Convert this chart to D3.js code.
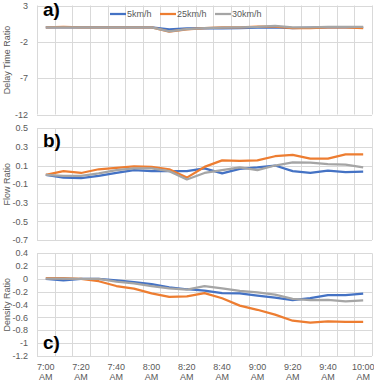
<!DOCTYPE html>
<html>
<head>
<meta charset="utf-8">
<title>Ratios by time</title>
<script src="https://cdn.jsdelivr.net/npm/d3@7"></script>
<style>
body, html {
  margin: 0;
  background: #fff;
}
svg text {
  font-family: "Liberation Sans", Arial, sans-serif;
}
.grid line {
  stroke: #d9d9d9;
  stroke-width: 1;
}
.tick-label {
  font-size: 9px;
  fill: #595959;
}
.axis-title {
  font-size: 9px;
  fill: #595959;
}
.panel-label {
  font-size: 19px;
  font-weight: bold;
  fill: #000;
}
</style>
</head>
<body>
<script>
// categories (every 10 minutes)
var times = ["7:00","7:10","7:20","7:30","7:40","7:50","8:00","8:10","8:20","8:30",
  "8:40","8:50","9:00","9:10","9:20","9:30","9:40","9:50","10:00"];

var seriesNames = ["5km/h", "25km/h", "30km/h"];
var colors = ["#4472c4", "#ed7d31", "#a5a5a5"];

// a) delay time ratio
var delay5  = [0,0,0,0,0,0,0,-0.3,-0.15,-0.1,-0.15,-0.1,-0.05,0,-0.1,-0.05,0,0,0];
var delay25 = [0,0.05,0,0,0,0,0,-0.6,-0.3,-0.1,0,0,0.1,0.1,-0.1,-0.1,0,0,-0.1];
var delay30 = [0,0,0,0,0,0,0,-0.55,-0.25,-0.1,-0.05,0,0.05,0.2,0,0,0.05,0.05,0.05];

// b) flow ratio
var flow5  = [0,-0.03,-0.035,-0.01,0.02,0.05,0.04,0.04,0.04,0.07,0.015,0.065,0.08,0.1,0.04,0.02,0.045,0.03,0.035];
var flow25 = [0,0.04,0.02,0.06,0.075,0.09,0.085,0.06,-0.03,0.085,0.155,0.15,0.155,0.2,0.215,0.175,0.175,0.22,0.22];
var flow30 = [0,-0.01,-0.01,0.015,0.05,0.07,0.07,0.04,-0.05,0.02,0.05,0.08,0.05,0.1,0.135,0.13,0.115,0.11,0.08];

// c) density ratio
var dens5  = [0,-0.02,0,0,-0.02,-0.05,-0.08,-0.13,-0.16,-0.18,-0.22,-0.225,-0.26,-0.29,-0.33,-0.3,-0.25,-0.25,-0.23];
var dens25 = [0.015,0.015,0,-0.035,-0.11,-0.15,-0.225,-0.28,-0.27,-0.22,-0.3,-0.415,-0.48,-0.555,-0.65,-0.68,-0.66,-0.67,-0.67];
var dens30 = [0.005,0.005,0,0,-0.04,-0.07,-0.11,-0.145,-0.165,-0.11,-0.145,-0.185,-0.21,-0.245,-0.31,-0.33,-0.325,-0.35,-0.335];

var delayTicks = [3, -2, -7, -12];
var flowTicks = [0.5, 0.3, 0.1, -0.1, -0.3, -0.5, -0.7];
var densTicks = [0.4, 0.2, 0, -0.2, -0.4, -0.6, -0.8, -1, -1.2];

var width = 374, height = 382;

var svg = d3.select("body").append("svg")
  .attr("width", width)
  .attr("height", height);

var x = d3.scaleBand()
  .domain(times)
  .range([37, 372])
  .padding(0);

var panels = [
  { label: "a)", title: "Delay Time Ratio", data: [delay5, delay25, delay30],
    ticks: delayTicks, domain: [-12, 3], range: [114.5, 5.5], labelY: 16, legend: true },
  { label: "b)", title: "Flow Ratio", data: [flow5, flow25, flow30],
    ticks: flowTicks, domain: [-0.7, 0.5], range: [240, 128.3], labelY: 147 },
  { label: "c)", title: "Density Ratio", data: [dens5, dens25, dens30],
    ticks: densTicks, domain: [-1.2, 0.4], range: [356, 253.3], labelY: 349 }
];

panels.forEach(function(p) {
  var y = d3.scaleLinear().domain(p.domain).range(p.range);
  var g = svg.append("g");
  var grid = g.append("g").attr("class", "grid");

  // horizontal gridlines
  grid.selectAll("line.h")
    .data(p.ticks)
    .enter().append("line")
    .attr("class", "h")
    .attr("x1", x.range()[0]).attr("x2", x.range()[1])
    .attr("y1", function(d) { return Math.round(y(d)) + 0.5; })
    .attr("y2", function(d) { return Math.round(y(d)) + 0.5; });

  // vertical gridlines at category boundaries
  var bounds = times.map(function(t) { return x(t); }).concat([x.range()[1]]);
  grid.selectAll("line.v")
    .data(bounds)
    .enter().append("line")
    .attr("class", "v")
    .attr("x1", function(d) { return Math.round(d) + 0.5; })
    .attr("x2", function(d) { return Math.round(d) + 0.5; })
    .attr("y1", p.range[1]).attr("y2", p.range[0]);

  // y tick labels
  g.selectAll("text.tick-label")
    .data(p.ticks)
    .enter().append("text")
    .attr("class", "tick-label")
    .attr("x", 28)
    .attr("y", function(d) { return y(d); })
    .attr("dy", "0.35em")
    .attr("text-anchor", "end")
    .text(function(d) { return String(d); });

  // axis title
  var cy = (p.range[0] + p.range[1]) / 2;
  g.append("text")
    .attr("class", "axis-title")
    .attr("transform", "translate(9.5," + cy + ") rotate(-90)")
    .attr("text-anchor", "middle")
    .text(p.title);

  // lines
  var line = d3.line()
    .x(function(d, i) { return x(times[i]) + x.bandwidth() / 2; })
    .y(function(d) { return y(d); });

  p.data.forEach(function(vals, k) {
    g.append("path")
      .datum(vals)
      .attr("fill", "none")
      .attr("stroke", colors[k])
      .attr("stroke-width", 2.25)
      .attr("stroke-linejoin", "round")
      .attr("d", line);
  });

  g.append("text")
    .attr("class", "panel-label")
    .attr("x", 43)
    .attr("y", p.labelY)
    .text(p.label);

  if (p.legend) {
    var lx = [110, 160, 215];
    var leg = g.append("g");
    seriesNames.forEach(function(name, k) {
      leg.append("line")
        .attr("x1", lx[k]).attr("x2", lx[k] + 16)
        .attr("y1", 14).attr("y2", 14)
        .attr("stroke", colors[k])
        .attr("stroke-width", 2.25);
      leg.append("text")
        .attr("class", "tick-label")
        .attr("x", lx[k] + 17)
        .attr("y", 14)
        .attr("dy", "0.35em")
        .text(name);
    });
  }
});

// x axis labels (every 20 minutes)
var xLabels = times.filter(function(t, i) { return i % 2 === 0; });
var xl = svg.append("g");
xl.selectAll("text.t")
  .data(xLabels)
  .enter().append("text")
  .attr("class", "tick-label")
  .attr("x", function(d) { return x(d) + x.bandwidth() / 2; })
  .attr("y", 366.5)
  .attr("dy", "0.35em")
  .attr("text-anchor", "middle")
  .text(function(d) { return d; });
xl.selectAll("text.am")
  .data(xLabels)
  .enter().append("text")
  .attr("class", "tick-label")
  .attr("x", function(d) { return x(d) + x.bandwidth() / 2; })
  .attr("y", 377)
  .attr("dy", "0.35em")
  .attr("text-anchor", "middle")
  .text("AM");
</script>
</body>
</html>
